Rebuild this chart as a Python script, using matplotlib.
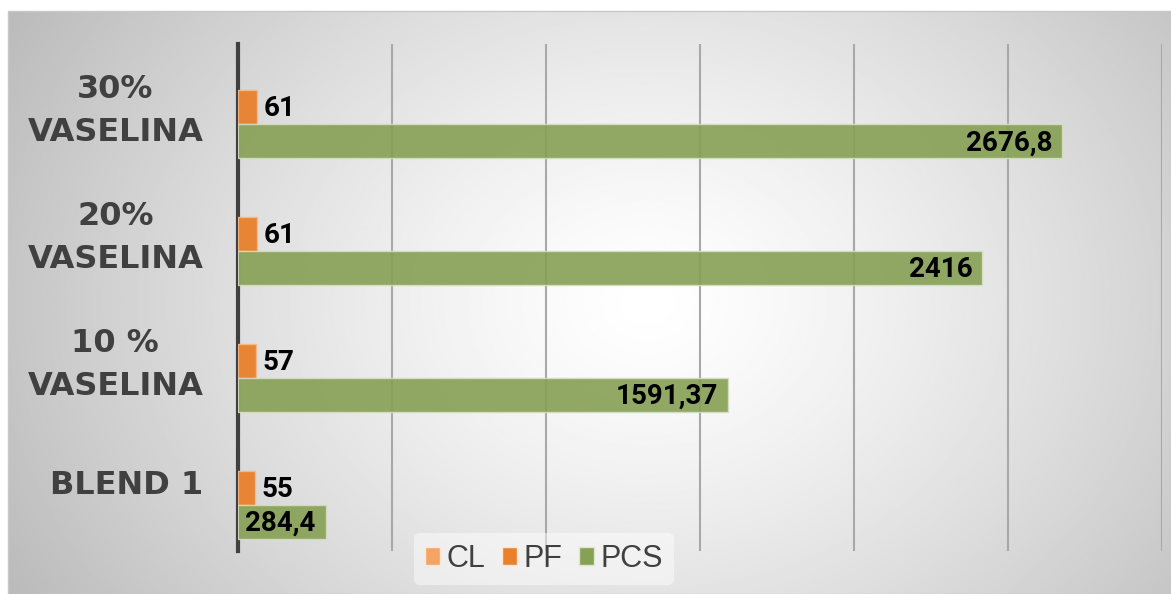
import numpy as np
import matplotlib

matplotlib.use("Agg")
import matplotlib.pyplot as plt
import matplotlib.transforms as mtransforms
from matplotlib.patches import Patch

categories = ["BLEND 1", "10 %\nVASELINA", "20%\nVASELINA", "30%\nVASELINA"]
cl_values = [0, 0, 0, 0]
pf_values = [55, 57, 61, 61]
pcs_values = [284.4, 1591.37, 2416, 2676.8]
series_names = ["CL", "PF", "PCS"]
series_colors = ["#F5A563", "#E8802C", "#86A054"]


def fmt(v):
    return "{:g}".format(v).replace(".", ",")


fig = plt.figure(figsize=(11.71, 5.94), dpi=100, facecolor="white")

# radial grey background of the chart area
bg = fig.add_axes([8 / 1171, 0, 1 - 8 / 1171, 1 - 11 / 594], zorder=0)
yy, xx = np.mgrid[0:1:300j, 0:1:600j]
r = np.sqrt(((xx - 0.55) * 1.6) ** 2 + ((yy - 0.5) * 1.0) ** 2)
r = np.clip(r / r.max(), 0, 1)
shade = 1.0 - 0.27 * r ** 1.3
bg.imshow(shade, cmap="gray", vmin=0, vmax=1, aspect="auto",
          extent=[0, 1, 0, 1], interpolation="bilinear")
bg.set_axis_off()
fig.patches.append(plt.Rectangle((8 / 1171, 0), 1 - 8 / 1171, 1 - 11 / 594,
                                 transform=fig.transFigure, fill=False,
                                 edgecolor="#c8c8c8", linewidth=1, zorder=1))

ax = fig.add_axes([238 / 1171, 1 - 551 / 594, (1162 - 238) / 1171, (551 - 44) / 594], zorder=2)
ax.patch.set_alpha(0)

y = np.arange(len(categories))
h = 0.268
ax.barh(y + h, cl_values, height=h, color=series_colors[0], alpha=0.92,
        linewidth=0, zorder=3)
ax.barh(y, pf_values, height=h, color=series_colors[1], alpha=0.95,
        edgecolor="#f6b887", linewidth=1, zorder=3)
ax.barh(y - h, pcs_values, height=h, color=series_colors[2], alpha=0.9,
        edgecolor="#d4dec0", linewidth=1, zorder=3)

for yi, v in zip(y, pf_values):
    ax.annotate(fmt(v), (v, yi), xytext=(5, -1), textcoords="offset points",
                ha="left", va="center", fontsize=20, fontweight="bold",
                family="Roboto", color="black", zorder=4)
for yi, v in zip(y - h, pcs_values):
    ax.annotate(fmt(v), (v, yi), xytext=(-7, -1), textcoords="offset points",
                ha="right", va="center", fontsize=20, fontweight="bold",
                family="Roboto", color="black", zorder=4)

ax.set_xlim(0, 3000)
ax.set_ylim(-0.5, 3.5)
ax.set_xticks(np.arange(0, 3001, 500))
ax.set_xticklabels([])
ax.tick_params(axis="x", length=0)
ax.grid(axis="x", color="#a8a8a8", linewidth=1.5, zorder=1)
ax.set_axisbelow(True)

ax.set_yticks(y)
ax.set_yticklabels(categories, fontsize=23, fontweight="bold", color="#404040",
                   family="DejaVu Sans", multialignment="center", linespacing=1.5)
ax.tick_params(axis="y", length=0, pad=25)
shift = mtransforms.ScaledTranslation(0, 4 / 72, fig.dpi_scale_trans)
for lab in ax.get_yticklabels():
    lab.set_transform(lab.get_transform() + shift)

for side in ["top", "right", "bottom"]:
    ax.spines[side].set_visible(False)
ax.spines["left"].set_color("#404040")
ax.spines["left"].set_linewidth(3)

handles = [Patch(facecolor=c, edgecolor="#fde6d4" if i < 2 else "#dfe6cf", linewidth=1)
           for i, c in enumerate(series_colors)]
leg = fig.legend(handles, series_names, loc="center", bbox_to_anchor=(544 / 1171, 1 - 559 / 594),
                 ncol=3, frameon=True, handlelength=0.5, handleheight=0.5,
                 handletextpad=0.2, columnspacing=0.55, borderpad=0.35,
                 prop={"family": "Liberation Sans", "size": 22})
leg.get_frame().set_facecolor("white")
leg.get_frame().set_alpha(0.45)
leg.get_frame().set_edgecolor("none")
leg.set_zorder(5)
for t in leg.get_texts():
    t.set_color("#404040")

fig.savefig("out.png", dpi=100, facecolor="white")
